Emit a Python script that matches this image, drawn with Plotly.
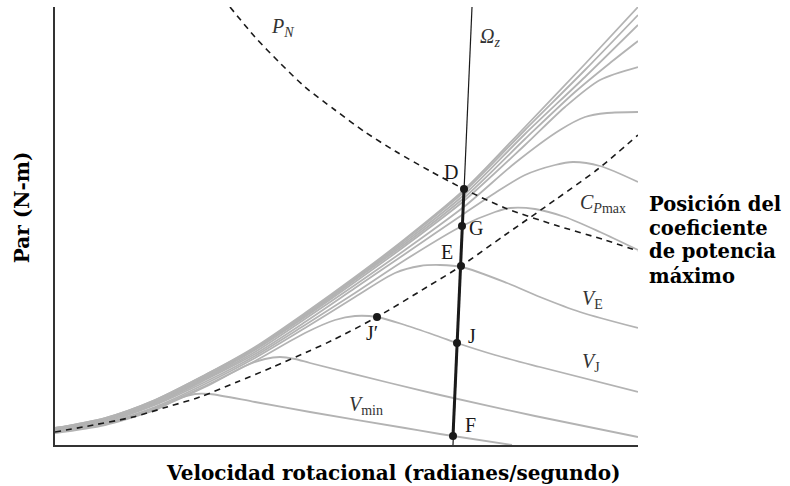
import plotly.graph_objects as go

# Rotor speed (w) and torque (t) in plot units; each list pair is one torque curve
curve_1_w = [0, 50, 100, 125, 140, 155, 200, 255, 350, 385, 457]
curve_1_t = [12, 20, 35, 47, 51, 51, 43, 33, 17, 11, 0]
curve_2_w = [0, 50, 100, 150, 190, 210, 225, 240, 255, 335, 385, 480, 583]
curve_2_t = [13, 21, 36, 58, 79, 86, 88, 86, 82, 62, 50, 29, 8]
curve_3_w = [0, 50, 100, 150, 200, 250, 280, 300, 322, 350, 385, 402, 440, 485, 583]
curve_3_t = [13, 21, 37, 59, 84, 112, 125, 129, 128, 120, 108, 102, 90, 78, 53]
curve_4_w = [0, 50, 100, 150, 200, 250, 300, 340, 365, 385, 407, 452, 485, 525, 583]
curve_4_t = [13, 22, 38, 61, 87, 117, 148, 172, 179, 180, 178, 162, 148, 133, 117]
curve_5_w = [0, 50, 100, 150, 200, 250, 300, 350, 407, 440, 455, 480, 510, 545, 583]
curve_5_t = [14, 23, 40, 63, 89, 120, 152, 185, 219, 233, 237, 236, 228, 213, 195]
curve_6_w = [0, 50, 100, 150, 200, 250, 300, 350, 410, 440, 470, 500, 518, 545, 583]
curve_6_t = [15, 24, 41, 65, 91, 123, 157, 191, 232, 252, 270, 280, 283, 279, 263]
curve_7_w = [0, 50, 100, 150, 200, 250, 300, 350, 410, 460, 505, 530, 552, 583]
curve_7_t = [16, 25, 42, 66, 93, 126, 160, 195, 239, 282, 315, 328, 332, 333]
curve_8_w = [0, 50, 100, 150, 200, 250, 300, 350, 410, 470, 510, 545, 583]
curve_8_t = [16, 26, 43, 67, 95, 128, 163, 199, 245, 300, 338, 365, 378]
curve_9_w = [0, 50, 100, 150, 200, 250, 300, 350, 410, 470, 520, 555, 583]
curve_9_t = [16, 26, 44, 68, 96, 129, 165, 201, 248, 306, 353, 382, 404]
curve_10_w = [0, 50, 100, 150, 200, 250, 300, 350, 410, 470, 530, 583]
curve_10_t = [17, 26, 44, 69, 97, 130, 166, 203, 251, 311, 368, 420]
curve_11_w = [0, 50, 100, 150, 200, 250, 300, 350, 410, 470, 530, 583]
curve_11_t = [17, 27, 45, 70, 97, 131, 167, 205, 254, 315, 375, 430]
curve_12_w = [0, 50, 100, 150, 200, 250, 300, 350, 410, 470, 530, 583]
curve_12_t = [17, 27, 45, 70, 98, 132, 168, 206, 256, 318, 381, 438]

# Locus of maximum power coefficient
cpmax_w = [0, 28, 78, 112, 145, 182, 218, 252, 278, 322, 372, 406, 450, 500, 543, 583]
cpmax_t = [13, 18, 28, 38, 48, 63, 78, 93, 105, 128, 158, 179, 210, 245, 276, 310]

# Rated power hyperbola
pn_w = [175, 200, 225, 250, 280, 310, 340, 375, 409, 450, 500, 550, 583]
pn_t = [438, 408, 382, 358, 335, 313, 294, 274, 256, 237, 220, 205, 194]

# Speed limit line and its operating segment
omega_w = [398, 417]
omega_t = [0, 438]
segment_w = [409, 398]
segment_t = [256, 9]

# Operating points
point_names = ["D", "G", "E", "J", "F", "J′"]
point_w = [409, 407, 406, 402, 398, 322]
point_t = [256, 219, 179, 102, 9, 128]

curves_w = [curve_1_w, curve_2_w, curve_3_w, curve_4_w, curve_5_w, curve_6_w,
            curve_7_w, curve_8_w, curve_9_w, curve_10_w, curve_11_w, curve_12_w]
curves_t = [curve_1_t, curve_2_t, curve_3_t, curve_4_t, curve_5_t, curve_6_t,
            curve_7_t, curve_8_t, curve_9_t, curve_10_t, curve_11_t, curve_12_t]

GRAY = "#b3b3b3"
INK = "#1a1a1a"
MATH_FONT = "Liberation Serif"
BOLD_FONT = "DejaVu Serif"

fig = go.Figure()

for w, t in zip(curves_w, curves_t):
    fig.add_trace(go.Scatter(x=w, y=t, mode="lines",
                             line=dict(color=GRAY, width=1.8, shape="spline", smoothing=0.8),
                             hoverinfo="skip"))

fig.add_trace(go.Scatter(x=cpmax_w, y=cpmax_t, mode="lines",
                         line=dict(color=INK, width=1.6, dash="6px,5px", shape="spline", smoothing=0.8)))
fig.add_trace(go.Scatter(x=pn_w, y=pn_t, mode="lines",
                         line=dict(color=INK, width=1.6, dash="6px,5px", shape="spline", smoothing=0.8)))

fig.add_trace(go.Scatter(x=omega_w, y=omega_t, mode="lines",
                         line=dict(color=INK, width=1.2)))
fig.add_trace(go.Scatter(x=segment_w, y=segment_t, mode="lines",
                         line=dict(color=INK, width=3)))

fig.add_trace(go.Scatter(x=point_w, y=point_t, mode="markers",
                         marker=dict(color=INK, size=8)))

# Point letters
letter_pos = {"D": (396, 273), "G": (421, 217), "E": (392, 193),
              "J": (417, 109), "F": (415, 20), "J′": (317, 112)}
for name in point_names:
    lx, ly = letter_pos[name]
    fig.add_annotation(x=lx, y=ly, text=name, showarrow=False,
                       xanchor="center", yanchor="middle",
                       font=dict(family=MATH_FONT, size=20, color=INK))

# Curve labels
math_labels = [
    (227, 418, "<i>P</i><sub><i>N</i></sub>"),
    (435, 408, "<i>Ω</i><sub><i>z</i></sub>"),
    (548, 242, "<i>C</i><sub><i>P</i>max</sub>"),
    (537, 146, "<i>V</i><sub>E</sub>"),
    (536, 83, "<i>V</i><sub>J</sub>"),
    (311, 40, "<i>V</i><sub>min</sub>"),
]
for lx, ly, txt in math_labels:
    fig.add_annotation(x=lx, y=ly, text=txt, showarrow=False,
                       xanchor="center", yanchor="middle",
                       font=dict(family=MATH_FONT, size=20, color="#333333"))

# Side note, placed in paper coordinates to the right of the plot
side_lines = [("Posición del", 0.548), ("coeficiente", 0.495), ("de potencia", 0.441), ("máximo", 0.384)]
for txt, py in side_lines:
    fig.add_annotation(x=1.018, y=py, xref="paper", yref="paper", text="<b>" + txt + "</b>",
                       showarrow=False, xanchor="left", yanchor="middle", borderpad=0,
                       font=dict(family=BOLD_FONT, size=19.5, color="#000000"))

# Axis titles
fig.add_annotation(x=0.580, y=-0.064, xref="paper", yref="paper",
                   text="<b>Velocidad rotacional (radianes/segundo)</b>",
                   showarrow=False, xanchor="center", yanchor="middle",
                   font=dict(family=BOLD_FONT, size=20, color="#000000"))
fig.add_annotation(x=-0.0566, y=0.543, xref="paper", yref="paper", text="<b>Par (N-m)</b>",
                   textangle=-90, showarrow=False, xanchor="center", yanchor="middle",
                   font=dict(family=BOLD_FONT, size=20, color="#000000"))

fig.update_xaxes(range=[0, 583], showline=True, linecolor="#333333", linewidth=1.5,
                 showgrid=False, zeroline=False, showticklabels=False, ticks="")
fig.update_yaxes(range=[0, 438], showline=True, linecolor="#333333", linewidth=1.5,
                 showgrid=False, zeroline=False, showticklabels=False, ticks="")

fig.update_layout(width=790, height=486, showlegend=False,
                  plot_bgcolor="white", paper_bgcolor="white",
                  margin=dict(l=55, r=152, t=7, b=41))

fig.write_html("out.html")
